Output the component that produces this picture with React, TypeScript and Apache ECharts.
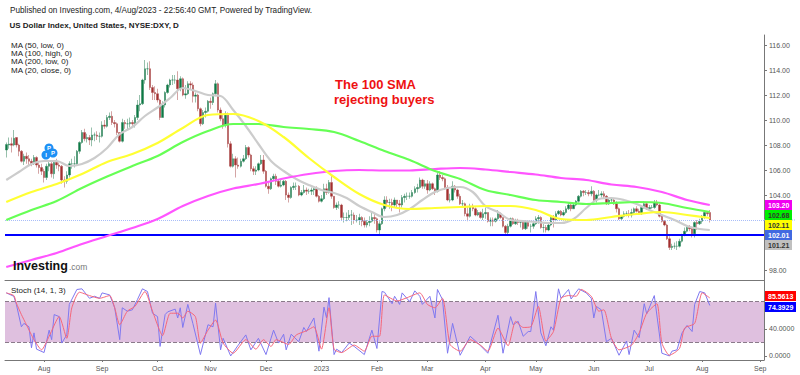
import React, { useEffect, useRef } from "react";
import * as echarts from "echarts";

const FONT = '"Liberation Sans", Arial, sans-serif';

// Daily candles, one line per calendar month (Jul 2022 .. Aug 2023).
const closes = [
  108.04,108.08,107.98,108.54,108.0,107.5,106.7,107.1,106.9,106.7,106.5,107.0,106.4,106.2,105.9,
  105.4,106.3,106.5,105.7,106.6,106.4,106.3,105.2,105.1,105.6,106.5,106.5,106.5,107.5,108.2,109.0,108.5,108.6,108.4,108.8,108.8,108.7,108.7,
  109.6,109.5,110.2,110.3,109.8,109.7,109.0,108.3,109.8,109.7,109.7,109.8,109.7,110.2,111.2,111.3,113.2,114.1,114.1,112.6,112.2,112.1,
  111.6,110.2,111.2,112.2,112.8,113.2,113.2,113.2,112.5,113.3,112.0,112.1,112.9,112.8,111.9,112.0,110.9,109.7,110.6,110.7,111.5,
  111.4,112.1,112.9,110.8,110.1,109.6,110.5,108.1,106.3,106.9,106.4,106.3,106.7,106.9,107.8,107.2,106.1,105.9,106.0,106.5,106.8,105.9,
  104.7,104.5,105.3,105.5,105.1,104.7,104.8,105.1,104.0,103.8,104.6,104.7,104.7,104.0,104.2,104.4,104.3,104.3,104.4,104.5,103.9,103.5,
  103.7,104.5,104.2,105.0,103.9,103.0,103.2,103.2,102.2,102.2,102.2,102.4,102.4,102.0,102.0,102.2,101.9,101.6,101.8,101.9,102.2,102.1,
  101.2,101.7,102.9,103.6,103.4,103.4,103.2,103.6,103.3,103.2,103.8,103.9,103.9,103.9,104.2,104.5,104.6,105.2,104.7,104.9,
  104.4,104.9,104.5,104.3,105.6,105.4,105.3,104.6,103.6,103.6,104.7,104.4,103.9,103.3,103.3,102.5,102.3,103.1,102.9,102.4,102.6,102.2,102.5,
  102.6,101.9,102.0,101.9,102.1,102.5,102.2,101.5,101.0,101.5,102.1,101.7,101.9,101.8,101.8,101.3,101.8,101.5,101.5,101.7,
  102.1,102.2,101.4,101.4,101.2,101.6,102.2,102.0,102.5,102.7,102.4,102.6,102.9,103.2,102.9,103.2,103.5,103.9,104.3,104.2,104.2,104.1,104.3,
  103.6,104.0,104.0,104.1,103.9,103.3,103.6,103.6,103.3,102.9,102.1,102.3,102.5,102.5,102.4,102.6,102.9,102.7,102.5,103.0,103.3,102.9,
  103.0,103.0,103.4,103.2,102.3,101.9,101.6,100.5,99.8,99.9,99.9,99.9,100.3,100.8,101.1,101.4,101.3,100.9,101.8,101.7,101.9,
  102.3,102.6,102.5,102.0,
];
const opens = [
  107.6,108.0,108.1,108.0,108.6,108.0,107.5,106.7,107.1,106.9,106.7,106.5,107.0,106.4,106.2,
  105.9,105.4,106.3,106.5,105.7,106.6,106.4,106.3,105.2,105.1,105.6,106.5,106.5,106.5,107.5,108.2,109.0,108.5,108.6,108.4,108.8,108.8,108.7,
  108.7,109.6,109.5,110.2,110.3,109.8,109.7,109.0,108.3,109.8,109.7,109.7,109.8,109.7,110.2,111.2,111.3,113.2,114.1,114.1,112.6,112.2,
  112.1,111.6,110.2,111.2,112.2,112.8,113.2,113.2,113.2,112.5,113.3,112.0,112.1,112.9,112.8,111.9,112.0,110.9,109.7,110.6,110.7,
  111.5,111.4,112.1,112.9,110.8,110.1,109.6,110.5,108.1,106.3,106.9,106.4,106.3,106.7,106.9,107.8,107.2,106.1,105.9,106.0,106.5,106.8,
  105.9,104.7,104.5,105.3,105.5,105.1,104.7,104.8,105.1,104.0,103.8,104.6,104.7,104.7,104.0,104.2,104.4,104.3,104.3,104.4,104.5,103.9,
  103.5,103.7,104.5,104.2,105.0,103.9,103.0,103.2,103.2,102.2,102.2,102.2,102.4,102.4,102.0,102.0,102.2,101.9,101.6,101.8,101.9,102.2,
  102.1,101.2,101.7,102.9,103.6,103.4,103.4,103.2,103.6,103.3,103.2,103.8,103.9,103.9,103.9,104.2,104.5,104.6,105.2,104.7,
  104.9,104.4,104.9,104.5,104.3,105.6,105.4,105.3,104.6,103.6,103.6,104.7,104.4,103.9,103.3,103.3,102.5,102.3,103.1,102.9,102.4,102.6,102.2,
  102.5,102.6,101.9,102.0,101.9,102.1,102.5,102.2,101.5,101.0,101.5,102.1,101.7,101.9,101.8,101.8,101.3,101.8,101.5,101.5,
  101.7,102.1,102.2,101.4,101.4,101.2,101.6,102.2,102.0,102.5,102.7,102.4,102.6,102.9,103.2,102.9,103.2,103.5,103.9,104.3,104.2,104.2,104.1,
  104.3,103.6,104.0,104.0,104.1,103.9,103.3,103.6,103.6,103.3,102.9,102.1,102.3,102.5,102.5,102.4,102.6,102.9,102.7,102.5,103.0,103.3,
  102.9,103.0,103.0,103.4,103.2,102.3,101.9,101.6,100.5,99.8,99.9,99.9,99.9,100.3,100.8,101.1,101.4,101.3,100.9,101.8,101.7,
  101.9,102.3,102.6,102.6,
];
const highs = [
  108.2,108.6,108.6,109.2,108.6,108.1,107.6,107.3,107.4,107.2,106.9,107.2,107.1,106.6,106.5,
  106.1,106.5,106.8,106.8,106.8,106.9,106.6,106.4,105.5,105.9,106.7,106.9,107.1,107.6,108.3,109.2,109.3,108.9,108.8,109.4,109.0,109.1,109.0,
  109.9,110.0,110.4,110.6,110.7,110.0,109.8,109.0,110.1,110.0,110.1,110.2,110.0,110.4,111.6,112.0,113.3,114.8,114.6,114.7,112.8,112.7,
  112.5,111.7,111.5,112.3,112.9,113.3,113.6,113.6,113.9,113.5,113.4,112.8,113.1,113.1,113.0,112.2,112.1,111.0,110.8,111.0,111.6,
  111.8,112.2,113.2,113.0,111.0,110.4,110.7,110.6,108.3,107.3,107.1,107.0,106.9,107.2,108.0,107.9,107.3,106.3,106.3,106.6,107.2,107.2,
  106.0,105.0,105.4,105.7,105.7,105.2,105.2,105.2,105.2,104.2,104.7,105.0,105.0,104.8,104.4,104.8,104.6,104.5,104.6,104.7,104.7,104.0,
  104.0,104.9,104.9,105.2,105.6,103.9,103.4,103.5,103.3,102.6,102.6,102.8,102.8,102.6,102.4,102.5,102.3,102.2,102.0,102.3,102.6,102.5,
  102.2,101.9,103.0,103.9,103.9,103.7,103.7,103.8,103.6,103.6,104.0,104.1,104.2,104.2,104.4,104.7,104.9,105.4,105.3,105.2,
  105.2,105.1,105.0,104.6,105.8,105.9,105.6,105.4,104.8,104.1,105.1,104.8,104.5,104.1,103.6,103.4,103.1,103.3,103.3,103.0,102.8,102.7,102.9,
  103.0,102.6,102.2,102.2,102.2,102.8,102.6,102.2,101.6,101.7,102.2,102.2,102.1,102.1,102.0,101.9,102.0,101.9,101.7,102.0,
  102.3,102.4,102.3,101.7,101.6,101.7,102.3,102.4,102.7,102.8,102.8,102.8,103.1,103.4,103.3,103.3,103.6,104.0,104.4,104.4,104.4,104.4,104.7,
  104.4,104.1,104.4,104.3,104.3,104.0,103.7,103.8,103.7,103.5,103.0,102.4,102.7,102.7,102.8,102.9,103.0,103.1,102.9,103.2,103.5,103.4,
  103.2,103.2,103.6,103.6,103.3,102.4,102.0,101.7,100.7,100.1,100.2,100.3,100.5,100.9,101.4,101.5,101.6,101.4,101.9,102.0,102.1,
  102.4,102.8,102.7,102.8,
];
const lows = [
  107.0,107.7,107.4,107.9,107.8,107.1,106.6,106.4,106.5,106.4,106.3,106.4,106.2,105.7,105.6,
  105.0,105.2,105.9,105.4,105.3,106.1,105.9,104.9,104.6,104.9,105.4,106.1,106.2,106.4,107.3,108.1,108.3,108.2,108.0,107.9,108.3,108.4,108.2,
  108.6,109.3,109.4,110.0,109.6,109.4,108.8,108.2,108.2,109.3,109.2,109.4,109.4,109.4,110.0,110.7,111.2,112.9,113.6,112.4,111.6,111.6,
  111.4,110.0,110.2,111.0,112.1,112.6,112.8,112.9,111.6,112.3,111.9,111.7,112.0,112.4,111.4,111.4,110.7,109.5,109.6,110.2,110.6,
  110.9,111.2,111.9,110.6,109.9,109.3,109.4,107.8,106.2,106.2,105.4,106.1,106.2,106.6,106.8,107.0,105.9,105.6,105.6,105.9,106.4,105.7,
  104.6,104.1,104.4,105.1,104.8,104.6,104.6,104.7,103.6,103.4,103.7,104.4,104.4,103.9,103.9,104.1,104.0,104.1,104.0,104.0,103.8,103.4,
  103.4,103.6,104.0,104.1,103.7,102.9,102.8,102.9,102.0,101.8,101.9,102.0,101.6,101.7,101.8,101.6,101.5,101.4,101.4,101.5,101.8,101.7,
  101.0,100.8,101.6,102.7,103.0,102.9,102.7,103.0,103.0,102.6,103.0,103.4,103.6,103.7,103.8,104.1,104.2,104.5,104.5,104.5,
  104.1,104.3,104.4,104.0,104.2,105.2,105.1,104.4,103.5,103.4,103.5,104.2,103.7,103.2,103.1,102.3,101.9,102.2,102.7,102.3,102.3,102.1,102.0,
  102.1,101.8,101.5,101.5,101.8,102.0,102.1,101.4,100.8,100.8,101.4,101.6,101.6,101.6,101.4,101.2,101.2,101.3,101.0,101.3,
  101.6,101.7,101.3,101.0,101.0,101.1,101.5,101.4,101.9,102.4,102.3,102.3,102.5,102.8,102.7,102.9,103.1,103.4,103.8,103.9,104.0,103.9,103.9,
  103.4,103.4,103.9,103.8,103.7,103.2,103.2,103.4,103.2,102.6,102.0,102.0,102.2,102.3,102.2,102.2,102.4,102.6,102.4,102.4,102.9,102.8,
  102.8,102.9,102.9,103.1,102.2,101.8,101.5,100.4,99.6,99.6,99.7,99.6,99.8,100.2,100.7,101.0,101.1,100.6,100.6,101.2,101.6,
  101.7,102.1,102.3,101.8,
];

// Moving averages at these bars.
const slowMaBars = [0,10,20,30,40,50,60,70,80,90,100,110,120,130,140,150,160,170,180,190,200,210,220,230,240,250,260,270,279];
const ma50 = [103.44,104.24,104.88,105.68,106.64,107.28,108.16,109.36,110.4,110.48,109.92,108.64,106.96,105.44,104.08,103.2,102.88,102.96,103.04,103.12,103.12,102.8,102.08,102.0,102.24,102.48,102.64,102.4,102.16];
const ma100 = [102.0,102.8,103.52,104.56,105.48,106.32,107.12,108.24,109.12,109.68,109.68,109.44,109.28,109.04,108.32,107.52,106.8,105.92,105.28,104.4,104.0,103.6,103.44,103.28,103.36,103.44,103.36,102.96,102.64];
const ma200 = [98.24,98.8,99.36,100.08,100.72,101.36,102.08,103.12,103.92,104.52,104.88,105.32,105.68,105.92,106.0,105.96,105.96,106.08,106.16,106.04,105.84,105.64,105.36,105.2,104.84,104.64,104.24,103.6,103.2];
const fastMaBars = [0,5,10,15,20,25,30,35,40,45,50,55,60,65,70,75,80,85,90,95,100,105,110,115,120,125,130,135,140,145,150,155,160,165,170,175,180,185,190,195,200,205,210,215,220,225,230,235,240,245,250,255,260,265,270,275,279];
const ma20 = [105.2,105.84,106.48,106.72,106.72,106.32,106.48,106.96,107.76,108.88,109.44,110.32,111.0,111.76,112.56,112.32,112.0,111.92,110.8,109.52,108.08,106.72,105.92,105.28,104.8,104.4,104.16,103.76,103.12,102.64,102.24,102.4,102.88,103.6,104.24,104.56,104.64,104.24,103.12,102.64,102.0,101.92,101.84,101.76,101.76,102.08,102.96,103.68,103.76,103.6,103.28,102.8,102.4,102.0,101.52,101.28,101.2];

// Stochastic turning points.
const stochKBars = [0,3,4,6,7,9,10,11,12,15,17,18,19,21,22,24,25,28,30,33,35,37,38,41,43,45,46,48,50,52,54,56,58,60,61,63,64,67,68,69,70,72,74,77,80,82,83,85,86,89,92,95,97,100,103,105,106,108,110,111,113,116,118,119,122,124,126,127,128,130,131,133,136,138,142,145,147,149,150,153,154,156,157,160,162,164,165,166,168,170,171,173,175,177,180,184,187,191,195,197,200,201,203,205,207,208,210,212,214,216,217,219,220,223,224,227,230,232,233,234,236,238,240,243,246,247,249,251,253,254,257,260,263,264,266,268,270,272,273,275,277,279];
const stochK = [93,88,76,43,48,43,12,34,10,5,38,24,61,58,19,31,76,98,99,85,88,85,93,90,71,24,71,66,68,83,99,95,63,58,14,61,65,69,56,71,42,76,48,2,46,43,78,9,26,0,16,31,9,26,2,26,38,19,32,9,32,21,42,36,56,7,72,56,86,2,10,5,19,14,2,38,11,95,94,77,88,76,93,80,96,88,76,80,88,56,98,83,4,48,1,29,19,4,60,4,58,46,51,29,36,36,95,34,15,43,38,99,85,98,84,99,93,85,56,73,68,21,26,1,22,2,38,27,77,62,89,4,0,7,9,34,45,36,76,95,93,74.39];
const stochDBars = [0,3,4,6,8,11,14,17,21,24,26,29,33,37,41,43,45,48,51,55,58,62,65,68,70,72,75,77,80,83,86,90,95,99,102,105,107,112,115,119,122,125,128,130,133,138,142,145,148,150,155,159,164,167,170,173,176,180,184,188,191,195,199,202,205,208,211,214,217,220,223,226,228,232,235,237,240,243,248,251,254,258,260,263,267,269,273,276,279];
const stochD = [93,89,78,61,46,24,9,29,58,26,71,94,89,85,89,71,46,66,73,95,66,30,63,63,56,66,58,19,38,53,19,4,24,10,24,14,24,17,31,37,43,10,71,10,5,16,7,29,29,90,81,86,93,76,71,85,17,7,24,16,7,41,15,51,42,43,73,22,36,85,89,88,98,88,66,68,26,9,16,34,63,77,19,1,11,41,48,93,85.56];

const priceTicks = [98,104,106,108,110,112,114,116];
const stochTicks = [0,40];
const supportLevel = 100.8;
const lastLevel = 102.0;
const bandUpper = 80;
const bandLower = 20;

const priceTags = [
  { text: "103.20", bg: "#f000f0", fg: "#ffffff", cy: 205 },
  { text: "102.68", bg: "#00ee00", fg: "#333333", cy: 215 },
  { text: "102.11", bg: "#ffff00", fg: "#333333", cy: 225 },
  { text: "102.01", bg: "#4169e1", fg: "#ffffff", cy: 235 },
  { text: "101.21", bg: "#c0c0c0", fg: "#333333", cy: 245 },
];
const stochTags = [
  { text: "85.5613", bg: "#ff0000", fg: "#ffffff", cy: 296 },
  { text: "74.3929", bg: "#0000ff", fg: "#ffffff", cy: 307 },
];
const legendRows = ["MA (50, low, 0)", "MA (100, high, 0)", "MA (200, low, 0)", "MA (20, close, 0)"];

const BAR_COUNT = 301;
const categories: string[] = [];
const monthNames = ["Jan","Feb","Mar","Apr","May","Jun","Jul","Aug","Sep","Oct","Nov","Dec"];
const tickNames: Record<number, string> = {};
{
  const d = new Date(Date.UTC(2022, 6, 11));
  let lastMonth = d.getUTCMonth();
  while (categories.length < BAR_COUNT) {
    const wd = d.getUTCDay();
    if (wd !== 0 && wd !== 6) {
      if (d.getUTCMonth() !== lastMonth) {
        lastMonth = d.getUTCMonth();
        tickNames[categories.length] = lastMonth === 0 ? String(d.getUTCFullYear()) : monthNames[lastMonth];
      }
      categories.push(d.toISOString().slice(0, 10));
    }
    d.setUTCDate(d.getUTCDate() + 1);
  }
}

const candleData = closes.map((c, i) => [opens[i], c, lows[i], highs[i]]);
const pairs = (bars: number[], vals: number[]) => bars.map((b, i) => [b, vals[i]]);

const AXIS = "#777777";
const LABEL = "#555555";

function tag(t: { text: string; bg: string; fg: string; cy: number }, w: number) {
  return [
    { type: "rect", z: 50, shape: { x: 765, y: t.cy - 5, width: w, height: 10 }, style: { fill: t.bg } },
    {
      type: "text", z: 51, x: 768, y: t.cy,
      style: { text: t.text, fill: t.fg, font: `bold 7px ${FONT}`, verticalAlign: "middle", align: "left" },
    },
  ];
}
function label(text: string, x: number, y: number, font: string, fill = "#222222") {
  return { type: "text", z: 40, x, y, style: { text, fill, font: `${font} ${FONT}`, verticalAlign: "middle", align: "left" } };
}
function pin(cx: number, cy: number, ch: string) {
  return [
    { type: "circle", z: 30, shape: { cx, cy, r: 4.5 }, style: { fill: "#1e90f5" } },
    { type: "text", z: 31, x: cx, y: cy, style: { text: ch, fill: "#ffffff", font: `bold 6px ${FONT}`, align: "center", verticalAlign: "middle" } },
  ];
}

function maSeries(name: string, bars: number[], vals: number[], color: string) {
  return {
    name, type: "line", xAxisIndex: 0, yAxisIndex: 0, data: pairs(bars, vals),
    showSymbol: false, smooth: 0.35, silent: true, z: 5,
    lineStyle: { color, width: 2.2 },
  };
}

const option: any = {
  animation: false,
  backgroundColor: "#ffffff",
  textStyle: { fontFamily: FONT },
  grid: [
    { left: 5, right: 36, top: 35, height: 245 },
    { left: 5, right: 36, top: 280, height: 80 },
  ],
  xAxis: [
    {
      type: "category", gridIndex: 0, data: categories, boundaryGap: true,
      axisLine: { show: true, onZero: false, lineStyle: { color: AXIS, width: 1 } },
      axisTick: { show: false }, axisLabel: { show: false }, splitLine: { show: false },
    },
    {
      type: "category", gridIndex: 1, data: categories, boundaryGap: true,
      axisLine: { show: true, onZero: false, lineStyle: { color: AXIS, width: 1 } },
      axisTick: { show: true, alignWithLabel: true, length: 2, lineStyle: { color: AXIS }, interval: (i: number) => tickNames[i] !== undefined },
      axisLabel: {
        show: true, color: LABEL, fontSize: 7, margin: 5, hideOverlap: false,
        interval: (i: number) => tickNames[i] !== undefined,
        formatter: (_v: string, i: number) => tickNames[i] ?? "",
      },
      splitLine: { show: false },
    },
  ],
  yAxis: [
    {
      type: "value", gridIndex: 0, position: "right", min: 97.2, max: 116.8, scale: true,
      axisLine: { show: true, onZero: false, lineStyle: { color: AXIS, width: 1 } },
      axisTick: { show: true, length: 3, lineStyle: { color: AXIS }, customValues: priceTicks },
      axisLabel: { color: LABEL, fontSize: 7, margin: 5, customValues: priceTicks, formatter: (v: number) => v.toFixed(2) },
      splitLine: { show: false },
    },
    {
      type: "value", gridIndex: 1, position: "right", min: -6, max: 112,
      axisLine: { show: true, onZero: false, lineStyle: { color: AXIS, width: 1 } },
      axisTick: { show: true, length: 3, lineStyle: { color: AXIS }, customValues: stochTicks },
      axisLabel: { color: LABEL, fontSize: 7, margin: 5, customValues: stochTicks, formatter: (v: number) => v.toFixed(4) },
      splitLine: { show: false },
    },
  ],
  series: [
    {
      name: "DXY", type: "candlestick", xAxisIndex: 0, yAxisIndex: 0, data: candleData, barWidth: 2, z: 3, silent: true,
      itemStyle: { color: "#0b7b45", color0: "#a32f2f", borderColor: "#2f8058", borderColor0: "#a84a4a", borderWidth: 0.5 },
      markLine: {
        silent: true, symbol: "none", label: { show: false }, animation: false,
        data: [
          { yAxis: supportLevel, lineStyle: { color: "#0000ff", width: 2, type: "solid" } },
          { yAxis: lastLevel, lineStyle: { color: "#a8bdf8", width: 1, type: "dotted" } },
        ],
      },
    },
    maSeries("MA 20", fastMaBars, ma20, "#cccccc"),
    maSeries("MA 200", slowMaBars, ma200, "#ff55ff"),
    maSeries("MA 100", slowMaBars, ma100, "#66ff55"),
    maSeries("MA 50", slowMaBars, ma50, "#ffff33"),
    {
      name: "%K", type: "line", xAxisIndex: 1, yAxisIndex: 1, data: pairs(stochKBars, stochK),
      showSymbol: false, silent: true, z: 5, lineStyle: { color: "#7f78f0", width: 1 },
      markArea: {
        silent: true, itemStyle: { color: "#dfc0df", opacity: 1 },
        data: [[{ yAxis: bandUpper }, { yAxis: bandLower }]],
      },
      markLine: {
        silent: true, symbol: "none", label: { show: false }, animation: false,
        lineStyle: { color: "#8a7a8a", width: 1, type: "dashed" },
        data: [{ yAxis: bandUpper }, { yAxis: bandLower }],
      },
    },
    {
      name: "%D", type: "line", xAxisIndex: 1, yAxisIndex: 1, data: pairs(stochDBars, stochD),
      showSymbol: false, silent: true, smooth: 0.2, z: 6, lineStyle: { color: "#f5667a", width: 1 },
    },
  ],
  graphic: [
    label("Published on Investing.com, 4/Aug/2023 - 22:56:40 GMT, Powered by TradingView.", 10, 10.5, "8.2px"),
    label("US Dollar Index, United States, NYSE:DXY, D", 9.5, 25, "bold 8px"),
    ...legendRows.map((t, i) => label(t, 11, 45 + i * 8.35, "8px")),
    label("Stoch (14, 1, 3)", 11, 290, "8px"),
    { type: "text", z: 40, x: 335, y: 84, style: { text: "The 100 SMA", fill: "#ee1111", font: `bold 13px ${FONT}`, verticalAlign: "middle" } },
    { type: "text", z: 40, x: 334, y: 99, style: { text: "rejecting buyers", fill: "#ee1111", font: `bold 13px ${FONT}`, verticalAlign: "middle" } },
    { type: "text", z: 40, x: 13, y: 266, style: { text: "Investing", fill: "#111111", font: `bold 12.5px ${FONT}`, verticalAlign: "middle" } },
    { type: "text", z: 40, x: 69, y: 267, style: { text: ".com", fill: "#777777", font: `8.5px ${FONT}`, verticalAlign: "middle" } },
    ...pin(46, 155, "I"),
    ...pin(49, 148, "P"),
    ...pin(53, 153, "P"),
    { type: "line", z: 20, shape: { x1: 764, y1: 220, x2: 796, y2: 220 }, style: { stroke: "#a8bdf8", lineWidth: 1, lineDash: [1, 1] } },
    ...priceTags.flatMap((t) => tag(t, 27)),
    ...stochTags.flatMap((t) => tag(t, 31)),
  ],
};

export default function App() {
  const ref = useRef<HTMLDivElement>(null);
  useEffect(() => {
    document.body.style.margin = "0";
    document.body.style.background = "#ffffff";
    const chart = echarts.init(ref.current!, undefined, { renderer: "svg", width: 800, height: 375 });
    chart.setOption(option);
    return () => chart.dispose();
  }, []);
  return <div ref={ref} style={{ width: 800, height: 375 }} />;
}
